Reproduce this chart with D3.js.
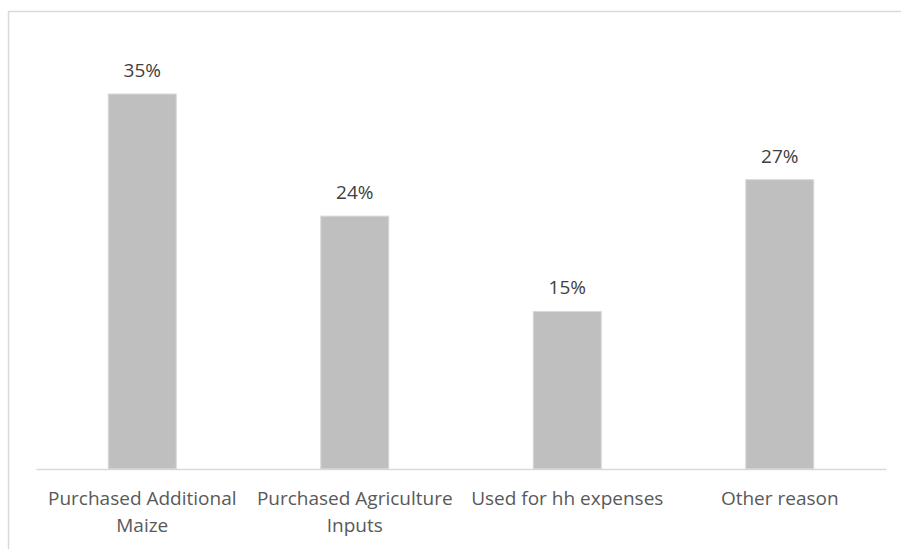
<!DOCTYPE html>
<html>
<head>
<meta charset="utf-8">
<script src="https://cdn.jsdelivr.net/npm/d3@7"></script>
<style>
  body { margin: 0; background: #fff; }
  svg { display: block; font-family: "Open Sans", sans-serif; }
</style>
</head>
<body>
<svg id="chart" width="901" height="549"></svg>
<script>
// categories and shares
var categories = ["Purchased Additional Maize", "Purchased Agriculture Inputs", "Used for hh expenses", "Other reason"];
var shares = [0.35, 0.236, 0.147, 0.27];

var svg = d3.select("#chart"),
    width = +svg.attr("width"),
    height = +svg.attr("height");

// chart frame, runs off the right and bottom edge like the screenshot
svg.append("rect")
  .attr("x", 8.5).attr("y", 11.5)
  .attr("width", width).attr("height", height)
  .attr("fill", "none")
  .attr("stroke", "#d9d9d9")
  .attr("stroke-width", 1.5);

var x = d3.scaleBand()
  .domain(categories)
  .range([36, 886])
  .paddingInner(0.68)
  .paddingOuter(0.34);

var y = d3.scaleLinear()
  .domain([0, 0.4])
  .range([469, 40.4]);

var data = categories.map(function(c, i){ return {cat: c, v: shares[i]}; });

svg.append("g")
  .selectAll("rect")
  .data(data)
  .enter()
  .append("rect")
    .attr("x", function(d){ return x(d.cat) })
    .attr("y", function(d){ return y(d.v) })
    .attr("width", x.bandwidth())
    .attr("height", function(d){ return y(0) - y(d.v) })
    .attr("fill", "#bfbfbf")
    .attr("stroke", "#d9d9d9")
    .attr("stroke-width", 1);

// value labels
svg.append("g")
  .selectAll("text")
  .data(data)
  .enter()
  .append("text")
    .attr("x", function(d){ return x(d.cat) + x.bandwidth()/2 })
    .attr("y", function(d){ return y(d.v) - 17 })
    .attr("text-anchor", "middle")
    .attr("font-size", 19)
    .attr("fill", "#404040")
    .text(function(d){ return d3.format(".0%")(d.v) });

// x axis
var xAxis = svg.append("g")
  .attr("transform", "translate(0," + y(0) + ")")
  .call(d3.axisBottom(x).tickSize(0).tickPadding(0));

xAxis.select(".domain")
  .attr("stroke", "#d9d9d9")
  .attr("stroke-width", 1.5);

xAxis.selectAll(".tick text")
  .attr("font-size", 19)
  .attr("font-family", "Open Sans, sans-serif")
  .attr("fill", "#595959")
  .call(wrap, x.step() - 6);

function wrap(texts, w) {
  texts.each(function(){
    var text = d3.select(this),
        words = text.text().split(/\s+/),
        line = [],
        lineNo = 0;
    text.text(null).attr("y", null).attr("dy", null);
    var tspan = text.append("tspan").attr("x", 0).attr("y", 36);
    words.forEach(function(word){
      line.push(word);
      tspan.text(line.join(" "));
      if (tspan.node().getComputedTextLength() > w && line.length > 1) {
        line.pop();
        tspan.text(line.join(" "));
        line = [word];
        lineNo++;
        tspan = text.append("tspan").attr("x", 0).attr("y", 36 + lineNo * 27).text(word);
      }
    });
  });
}
</script>
</body>
</html>
